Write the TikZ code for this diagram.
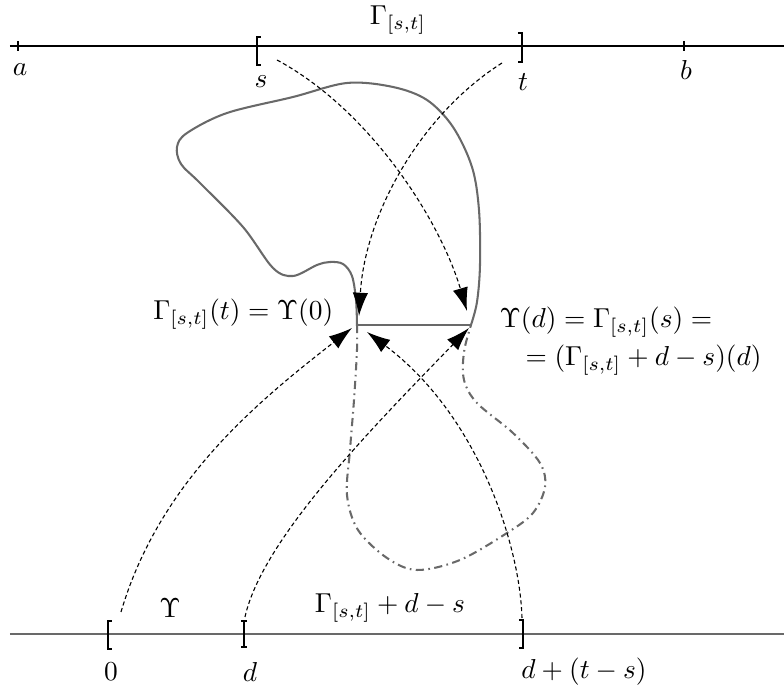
\documentclass[tikz,border=0pt]{standalone}
\usepackage{amsmath,amssymb}
\usetikzlibrary{arrows.meta,calc}
\definecolor{curvegray}{RGB}{105,105,105}

\begin{document}
\begin{tikzpicture}[x=0.365pt,y=-0.365pt,
    maparrow/.style={line width=0.4pt, dash pattern=on 1.5pt off 1pt, -{Latex[length=8.5pt,width=5.6pt]}},
    pathline/.style={curvegray, line width=0.75pt},
    dashdotline/.style={curvegray, line width=0.75pt, dash pattern=on 3pt off 1.6pt on 0.6pt off 1.6pt}]
    \useasboundingbox (0,0) rectangle (784,690);

    % upper axis with Gamma on [s,t]
    \draw[line width=0.5pt] (10,46) -- (784,46);
    \draw (18,41) -- (18,51);
    \draw (684,41) -- (684,51);
    \draw (261,37) -- (257,37) -- (257,65) -- (261,65);
    \draw (518,33) -- (522,33) -- (522,62) -- (518,62);
    \node (la) at (20,70) {$a$};
    \node (lb) at (686,70) {$b$};
    \node (ls) at (261,82) {$s$};
    \node (lt) at (523,82) {$t$};
    \node (gtop) at (398,20) {$\Gamma_{[s,t]}$};

    % lower axis with Upsilon
    \draw[curvegray, line width=0.7pt] (10,634) -- (784,634);
    \draw (112,621) -- (108,621) -- (108,649) -- (112,649);
    \draw[line width=0.9pt] (244,621) -- (244,647);
    \draw (241,621) -- (247,621);
    \draw (241,647) -- (247,647);
    \draw (519,620) -- (523,620) -- (523,648) -- (519,648);
    \node (l0) at (111,672) {$0$};
    \node (ld) at (250,672) {$d$};
    \node (ldts) at (584,672) {$d+(t-s)$};
    \node (ups) at (170,608) {$\Upsilon$};
    \node (gshift) at (390,608) {$\Gamma_{[s,t]}+d-s$};

    % end points of the pieces
    \coordinate (P0) at (357,325);
    \coordinate (P1) at (471,325);
    \coordinate (sA) at (277,60);
    \coordinate (tA) at (502,63);
    \coordinate (zA) at (121,612);
    \coordinate (dA) at (245,617);
    \coordinate (eA) at (522,618);

    % Gamma on [s,t]
    \draw[pathline] plot[smooth, tension=0.55] coordinates {(P0) (356,300) (352,276) (343,264) (330,262) (317,265) (293,276) (273,268) (243,227) (200,183) (181,164) (177,147) (187,133) (227,113) (293,97) (347,83) (393,87) (427,100) (453,127) (472,167) (479,210) (480,265) (477,302) (P1)};
    \draw[pathline] (P0) -- (P1);

    % shifted Gamma
    \draw[dashdotline] plot[smooth, tension=0.55] coordinates {(P0) (357,350) (354,400) (350,450) (347,495) (358,530) (387,558) (417,570) (460,560) (507,533) (533,513) (545,487) (540,463) (513,433) (477,403) (464,380) (464,352) (P1)};

    % labels at the joint
    \node[anchor=east] (lleft) at (343,314) {$\Gamma_{[s,t]}(t)=\Upsilon(0)$};
    \node[anchor=west] (lright) at (490,322) {$\Upsilon(d)=\Gamma_{[s,t]}(s)=$};
    \node[anchor=west] (lright2) at (516,360) {$=(\Gamma_{[s,t]}+d-s)(d)$};

    % maps
    \draw[maparrow] (sA) .. controls (370,110) and (440,220) .. ($(P1)+(-4,-14)$);
    \draw[maparrow] (tA) .. controls (420,115) and (365,215) .. ($(P0)+(2,-9)$);
    \draw[maparrow] (zA) .. controls (160,480) and (260,400) .. ($(P0)+(-5,3)$);
    \draw[maparrow] (dA) .. controls (262,540) and (370,430) .. ($(P1)+(-2,3)$);
    \draw[maparrow] (eA) .. controls (520,545) and (478,415) .. ($(P0)+(10,7)$);
\end{tikzpicture}
\end{document}
